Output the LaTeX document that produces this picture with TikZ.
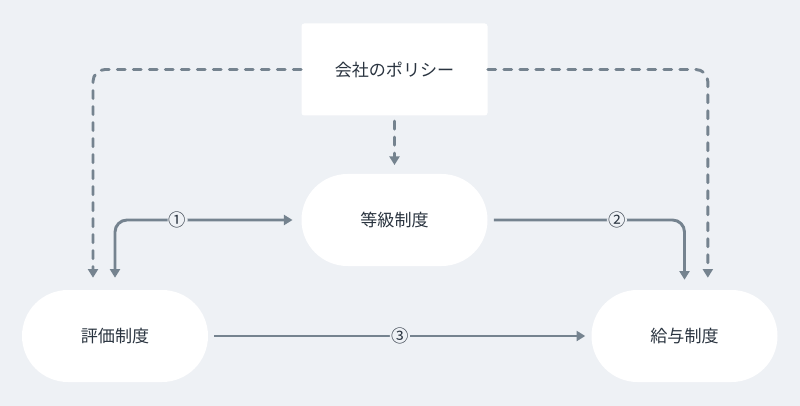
\documentclass[tikz,border=0pt]{standalone}
\usepackage{fontspec}
\setmainfont{Noto Sans CJK JP}
\usetikzlibrary{arrows.meta}
\definecolor{bgc}{HTML}{EEF1F5}
\definecolor{linec}{HTML}{75838F}
\definecolor{textc}{HTML}{2A3440}
\tikzset{
  box/.style={fill=white, text=textc, font=\fontsize{12.8pt}{15pt}\selectfont, minimum width=139.5pt, minimum height=69pt, inner sep=0pt},
  pill/.style={box, rounded corners=34.5pt},
  sqbox/.style={box, rounded corners=2pt},
  conn/.style={draw=linec, line width=2.2pt, rounded corners=9pt, -{Triangle[length=6.5pt,width=7.5pt]}},
  dconn/.style={conn, line cap=round, dash pattern=on 6pt off 6pt},
  lbl/.style={fill=bgc, text=textc, font=\fontsize{13pt}{15pt}\selectfont, inner sep=1pt}
}
\begin{document}
\begin{tikzpicture}[x=0.75pt, y=-0.75pt]
\fill[bgc] (0,0) rectangle (800,406);
\useasboundingbox (0,0) rectangle (800,406);
\node[sqbox] (policy) at (394.5,69.5) {会社のポリシー};
\node[pill] (tokyu) at (394.5,220) {等級制度};
\node[pill] (hyoka) at (115,336) {評価制度};
\node[pill] (kyuyo) at (684.5,336) {給与制度};
% dashed
\draw[dconn, shorten >=9pt] (policy.west) -| ([xshift=-16.5pt]hyoka.north);
\draw[dconn, shorten >=9pt] (policy.east) -| ([xshift=17.5pt]kyuyo.north);
\draw[dconn, shorten >=6.5pt, shorten <=4pt] (policy.south) -- (tokyu.north);
% solid
\draw[conn, {Triangle[length=6.5pt,width=7.5pt]}-{Triangle[length=6.5pt,width=7.5pt]}, shorten <=6.5pt, shorten >=9pt] (tokyu.west) -| (hyoka.north) node[lbl, pos=0.332] {①};
\draw[conn, shorten <=4.5pt, shorten >=7.5pt] (tokyu.east) -| (kyuyo.north) node[lbl, pos=0.328] {②};
\draw[conn, shorten <=4.5pt, shorten >=4.5pt] (hyoka.east) -- (kyuyo.west) node[lbl, pos=0.5] {③};
\end{tikzpicture}
\end{document}
